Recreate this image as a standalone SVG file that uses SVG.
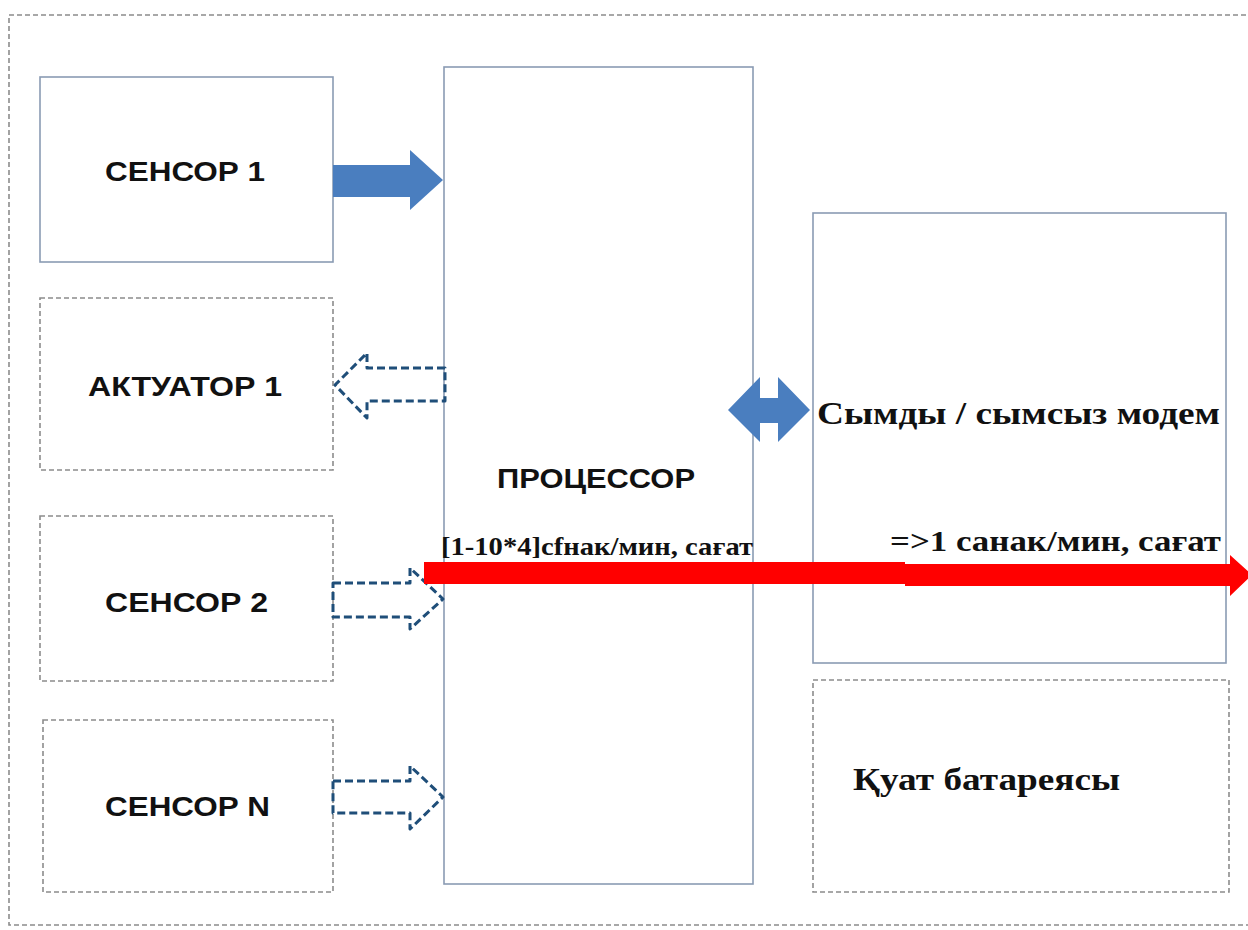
<svg xmlns="http://www.w3.org/2000/svg" width="1248" height="930" viewBox="0 0 1248 930">
<style>
.solid{fill:#fff;stroke:#8a9bb3;stroke-width:1.6}
.dash{fill:#fff;stroke:#8c8c8c;stroke-width:1.6;stroke-dasharray:5 3}
.lbl{font-family:"Liberation Sans",Arial,sans-serif;font-weight:bold;font-size:27px;fill:#111}
.ser{font-family:"Liberation Serif","Times New Roman",serif;font-weight:bold;fill:#111}
.darr{fill:none;stroke:#1f4e79;stroke-width:3;stroke-dasharray:8 4;stroke-linejoin:round}
</style>
<rect width="1248" height="930" fill="#fff"/>
<rect x="9" y="15" width="1250" height="910" class="dash"/>
<g id="sensor1"><rect x="40" y="77" width="293" height="185" class="solid"/><text x="105" y="181" class="lbl" textLength="160" lengthAdjust="spacingAndGlyphs">СЕНСОР 1</text></g>
<g id="actuator1"><rect x="40" y="298" width="293" height="172" class="dash"/><text x="88" y="396" class="lbl" textLength="194" lengthAdjust="spacingAndGlyphs">АКТУАТОР 1</text></g>
<g id="sensor2"><rect x="40" y="516" width="293" height="165" class="dash"/><text x="105" y="612" class="lbl" textLength="163" lengthAdjust="spacingAndGlyphs">СЕНСОР 2</text></g>
<g id="sensorN"><rect x="43" y="720" width="290" height="172" class="dash"/><text x="105" y="816" class="lbl" textLength="165" lengthAdjust="spacingAndGlyphs">СЕНСОР N</text></g>
<g id="processor"><rect x="444" y="67" width="309" height="817" class="solid"/><text x="497" y="488" class="lbl" textLength="198" lengthAdjust="spacingAndGlyphs">ПРОЦЕССОР</text></g>
<g id="modem"><rect x="813" y="213" width="413" height="450" class="solid"/><text x="817" y="424" class="ser" font-size="31" textLength="403" lengthAdjust="spacingAndGlyphs">Сымды / сымсыз модем</text></g>
<g id="battery"><rect x="813" y="680" width="416" height="212" class="dash"/><text x="853" y="790" class="ser" font-size="31" textLength="267" lengthAdjust="spacingAndGlyphs">Қуат батареясы</text></g>
<g id="connectors">
<polygon points="333,165 410,165 410,150 443,180 410,210 410,197 333,197" fill="#4a7ebf"/>
<polygon points="445,368 367,368 367,353 335,385 367,418 367,401 445,401" class="darr"/>
<polygon points="333,583 410,583 410,568 443,599 410,629 410,617 333,617" class="darr"/>
<polygon points="333,781 410,781 410,766 443,797 410,829 410,813 333,813" class="darr"/>
<polygon points="728,410 760,377 760,398 778,398 778,377 810,410 778,442 778,423 760,423 760,442" fill="#4a7ebf"/>
<polygon points="424,562 905,562 905,564 1230,564 1230,555 1252,575 1230,596 1230,586 905,586 905,584 424,584" fill="#f00"/>
<text x="441" y="555" class="ser" font-size="25" textLength="312" lengthAdjust="spacingAndGlyphs">[1-10*4]cfнак/мин, сағат</text>
<text x="890" y="551" class="ser" font-size="30" textLength="331" lengthAdjust="spacingAndGlyphs">=&gt;1 санак/мин, сағат</text>
</g>
</svg>
